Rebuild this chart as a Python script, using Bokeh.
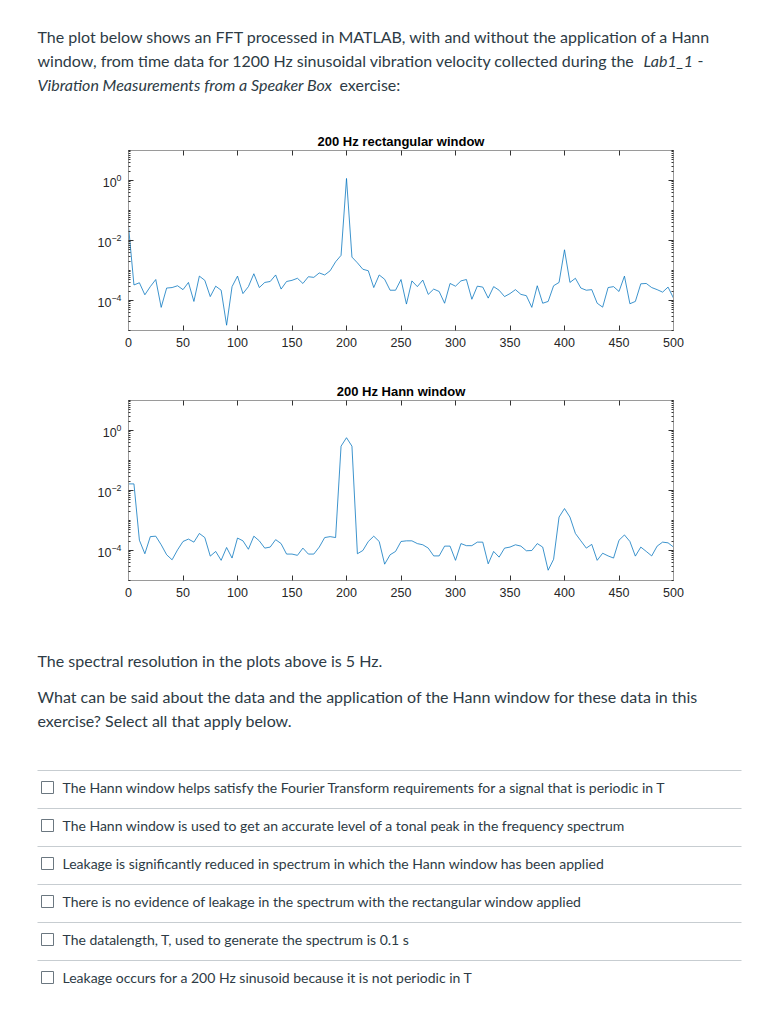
from bokeh.plotting import figure
from bokeh.layouts import column
from bokeh.models import Range1d, FixedTicker, LinearAxis, LogAxis, CustomJSTickFormatter
from bokeh.embed import file_html
from bokeh.resources import INLINE
from bokeh.core.properties import value

# ---------------- data ----------------
freq_hz = list(range(0, 505, 5))

rect_amp = [
    3.0e-2, 3.3e-4, 3.9e-4, 1.55e-4, 2.9e-4, 5.0e-4, 5.9e-5, 2.6e-4, 2.7e-4, 3.1e-4,
    2.3e-4, 4.0e-4, 9.3e-5, 6.5e-4, 4.7e-4, 1.35e-4, 3.0e-4, 2.2e-4, 1.5e-5, 2.9e-4,
    6.5e-4, 1.7e-4, 2.9e-4, 7.8e-4, 2.7e-4, 4.0e-4, 4.3e-4, 7.1e-4, 2.4e-4, 4.3e-4,
    4.7e-4, 5.5e-4, 3.7e-4, 6.2e-4, 5.9e-4, 8.3e-4, 7.1e-4, 9.8e-4, 1.95e-3, 3.2e-3,
    1.17, 2.8e-3, 1.8e-3, 1.1e-3, 9.8e-4, 2.7e-4, 7.1e-4, 5.1e-4, 2.2e-4, 2.2e-4,
    5.0e-4, 7.6e-5, 4.5e-4, 2.9e-4, 4.8e-4, 1.6e-4, 2.4e-4, 2.0e-4, 8.1e-5, 3.7e-4,
    3.0e-4, 4.5e-4, 5.0e-4, 1.1e-4, 3.0e-4, 2.8e-4, 1.2e-4, 2.9e-4, 2.2e-4, 1.35e-4,
    1.7e-4, 2.3e-4, 1.6e-4, 1.45e-4, 5.9e-5, 3.1e-4, 8.1e-5, 9.3e-5, 3.1e-4, 4.0e-4,
    4.9e-3, 4.0e-4, 5.5e-4, 2.6e-4, 2.2e-4, 2.3e-4, 8.1e-5, 6.0e-5, 2.7e-4, 2.9e-4,
    2.0e-4, 6.5e-4, 7.8e-5, 9.3e-5, 3.6e-4, 3.7e-4, 2.7e-4, 2.3e-4, 1.9e-4, 2.8e-4,
    1.2e-4,
]

hann_amp = [
    1.66e-2, 1.66e-2, 2.2e-4, 7.8e-5, 2.9e-4, 3.0e-4, 1.55e-4, 7.2e-5, 4.9e-5, 1.05e-4,
    2.0e-4, 2.4e-4, 1.9e-4, 3.7e-4, 2.7e-4, 6.5e-5, 9.3e-5, 4.7e-5, 1.26e-4, 5.6e-5,
    2.6e-4, 2.1e-4, 1.1e-4, 3.0e-4, 2.1e-4, 1.2e-4, 1.3e-4, 2.3e-4, 1.7e-4, 7.6e-5,
    7.6e-5, 6.9e-5, 1.2e-4, 7.6e-5, 7.6e-5, 1.3e-4, 2.7e-4, 2.9e-4, 2.7e-4, 0.30,
    0.575, 0.30, 7.8e-5, 1.0e-4, 2.0e-4, 3.0e-4, 2.0e-4, 3.5e-5, 7.2e-5, 9.3e-5,
    2.0e-4, 2.1e-4, 2.1e-4, 1.7e-4, 1.55e-4, 1.2e-4, 6.6e-5, 6.6e-5, 1.4e-4, 1.4e-4,
    4.7e-5, 1.7e-4, 1.45e-4, 1.45e-4, 1.9e-4, 1.9e-4, 3.6e-5, 9.3e-5, 6.0e-5, 1.2e-4,
    1.3e-4, 1.55e-4, 1.4e-4, 9.8e-5, 1.0e-4, 1.7e-4, 1.3e-4, 2.2e-5, 5.1e-5, 1.3e-3,
    2.5e-3, 1.3e-3, 3.7e-4, 2.1e-4, 1.2e-4, 1.6e-4, 4.7e-5, 8.1e-5, 6.6e-5, 5.6e-5,
    2.2e-4, 3.3e-4, 2.0e-4, 6.5e-5, 1.3e-4, 9.3e-5, 6.6e-5, 1.4e-4, 1.9e-4, 1.8e-4,
    1.3e-4,
]

rect_title = "200 Hz rectangular window"
hann_title = "200 Hz Hann window"
x_ticks = [0, 50, 100, 150, 200, 250, 300, 350, 400, 450, 500]
y_major = [1e-4, 1e-2, 1e0]

intro_lines = [
    "The plot below shows an FFT processed in MATLAB, with and without the application of a Hann",
    "window, from time data for  1200 Hz sinusoidal vibration velocity collected during the ",
]
intro_italic = ["Lab1_1", "Vibration Measurements from a Speaker Box"]
intro_tail = ["-", "exercise:"]

resolution_text = "The spectral resolution in the plots above is 5 Hz."
question_lines = [
    "What can be said about the data and the application of the Hann window for these data in this",
    "exercise? Select all that apply below.",
]
options = [
    "The Hann window helps satisfy the Fourier Transform requirements for a signal that is periodic in T",
    "The Hann window is used to get an accurate level of a tonal peak in the frequency spectrum",
    "Leakage is significantly reduced in spectrum in which the Hann window has been applied",
    "There is no evidence of leakage in the spectrum with the rectangular window applied",
    "The datalength, T, used to generate the spectrum is 0.1 s",
    "Leakage occurs for a 200 Hz sinusoid because it is not periodic in T",
]

# ---------------- styling ----------------
W = 775
TXT = "#2d3b45"
PAGE_FONT = "Lato"
MFONT = "Liberation Sans"
LINE_BLUE = "#0072BD"
BOX = "#9a9a9a"
TICK = "#333333"

y_minor = []
for n in range(-5, 1):
    for k in range(1, 10):
        v = k * 10.0 ** n
        if not any(abs(v - m) / m < 1e-9 for m in y_major):
            y_minor.append(v)
y_minor.append(10.0)


def no_align(p):
    try:
        p.frame_align = False
    except Exception:
        pass


def text_fig(top, bottom):
    p = figure(width=W, height=bottom - top, x_range=Range1d(0, W),
               y_range=Range1d(bottom, top), output_backend="svg",
               toolbar_location=None, min_border=0,
               x_axis_location=None, y_axis_location=None)
    p.grid.visible = False
    p.outline_line_color = None
    p.background_fill_color = "white"
    no_align(p)
    return p


def put(p, x, y, s, size="16px", style="normal", color=TXT):
    p.text(x=[x], y=[y], text=[s], text_font=value(PAGE_FONT), text_font_size=size,
           text_font_style=style, text_baseline="middle", text_align="left",
           text_color=color)


def style_axis(ax, labels=True):
    ax.axis_line_color = BOX
    ax.major_tick_line_color = TICK
    ax.minor_tick_line_color = TICK
    ax.major_tick_in = 5
    ax.major_tick_out = 0
    ax.minor_tick_in = 2
    ax.minor_tick_out = 0
    ax.major_label_text_font = MFONT
    ax.major_label_text_font_size = "12.5px"
    ax.major_label_text_color = "#262626"
    ax.major_label_standoff = 7
    if not labels:
        ax.formatter = CustomJSTickFormatter(code="return ''")
        ax.major_label_standoff = 0
        ax.major_label_text_font_size = "0px"


def spec_fig(title, amps, height, top_border):
    p = figure(width=W, height=height, y_axis_type="log",
               x_range=Range1d(0, 500), y_range=Range1d(1e-5, 1e1),
               output_backend="svg", toolbar_location=None,
               min_border_left=128, min_border_right=W - 128 - 545,
               min_border_top=top_border, min_border_bottom=35,
               title=title)
    no_align(p)
    p.title.align = "center"
    p.title.text_font = MFONT
    p.title.text_font_size = "13px"
    p.title.text_font_style = "bold"
    p.title.text_color = "black"
    p.title.standoff = 4
    p.grid.visible = False
    p.outline_line_color = BOX
    p.line(freq_hz, amps, line_color=LINE_BLUE, line_width=0.85, line_alpha=0.9)

    p.xaxis.ticker = FixedTicker(ticks=x_ticks, minor_ticks=[])
    p.yaxis.ticker = FixedTicker(ticks=y_major, minor_ticks=y_minor)
    style_axis(p.xaxis[0])
    style_axis(p.yaxis[0])

    top_ax = LinearAxis(ticker=FixedTicker(ticks=x_ticks, minor_ticks=[]))
    style_axis(top_ax, labels=False)
    p.add_layout(top_ax, "above")
    right_ax = LogAxis(ticker=FixedTicker(ticks=y_major, minor_ticks=y_minor))
    style_axis(right_ax, labels=False)
    p.add_layout(right_ax, "right")
    return p


# ---------------- header ----------------
head = text_fig(0, 125)
put(head, 37, 36, intro_lines[0])
put(head, 37, 60, intro_lines[1])
put(head, 643, 60, intro_italic[0], style="italic")
put(head, 697, 60, intro_tail[0])
put(head, 37, 84, intro_italic[1], style="italic")
put(head, 339, 84, intro_tail[1])

# ---------------- plots ----------------
p1 = spec_fig(rect_title, rect_amp, 240, 25)
p2 = spec_fig(hann_title, hann_amp, 250, 35)

# ---------------- question ----------------
q = text_fig(615, 1008)
put(q, 37, 660, resolution_text)
put(q, 37, 696, question_lines[0])
put(q, 37, 720, question_lines[1])

sep_y = [770, 808, 846, 884, 922, 960]
q.segment(x0=[37] * len(sep_y), x1=[741] * len(sep_y), y0=sep_y, y1=sep_y,
          line_color="#c7cdd1", line_width=1)
opt_y = [787, 825, 863, 901, 939, 977]
q.rect(x=[47] * len(opt_y), y=opt_y, width=12, height=12, fill_color="white",
       line_color="#6b7780", line_width=1)
q.text(x=[62] * len(opt_y), y=opt_y, text=options, text_font=value(PAGE_FONT),
       text_font_size="14px", text_baseline="middle", text_color=TXT)

layout = column(head, p1, p2, q, spacing=0)
open("out.html", "w").write(file_html(layout, INLINE))
